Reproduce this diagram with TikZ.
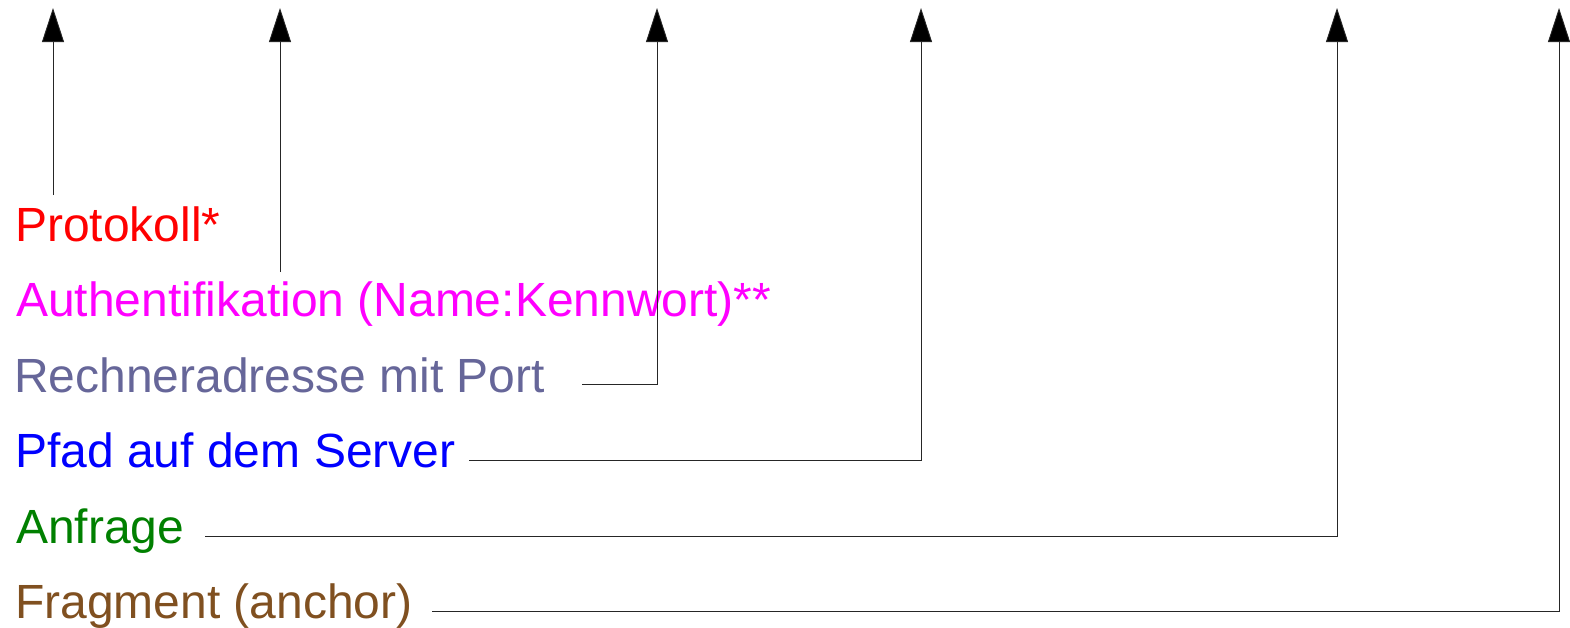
\documentclass[tikz,border=0pt]{standalone}
\usepackage{fontspec}
\setmainfont{Liberation Sans}
\usetikzlibrary{arrows.meta}
\definecolor{cProt}{RGB}{255,0,0}
\definecolor{cAuth}{RGB}{255,0,255}
\definecolor{cRech}{RGB}{102,102,153}
\definecolor{cPfad}{RGB}{0,0,255}
\definecolor{cAnfr}{RGB}{0,128,0}
\definecolor{cFrag}{RGB}{128,80,32}
\begin{document}
\begin{tikzpicture}[x=1pt,y=-1pt,
  lbl/.style={anchor=base west, inner sep=0pt, font=\fontsize{48}{58}\selectfont},
  conn/.style={line width=0.9pt, draw=black!85, -{Triangle[length=34pt,width=22pt,fill=black]}}]
\useasboundingbox (0,0) rectangle (1570,627);
\node[lbl, text=cProt] (prot) at (15,241) {Protokoll*};
\node[lbl, text=cAuth] (auth) at (16,316) {Authentifikation (Name:Kennwort)**};
\node[lbl, text=cRech] (rech) at (14,392) {Rechneradresse mit Port};
\node[lbl, text=cPfad] (pfad) at (15,467) {Pfad auf dem Server};
\node[lbl, text=cAnfr] (anfr) at (16,543) {Anfrage};
\node[lbl, text=cFrag] (frag) at (15,618) {Fragment (anchor)};
\coordinate (s1) at (53,195);
\coordinate (s2) at (280,272);
\coordinate (s3) at (582,384);
\coordinate (s4) at (469,460);
\coordinate (s5) at (205,536);
\coordinate (s6) at (432,611);
\coordinate (t1) at (53,8);
\coordinate (t2) at (280,8);
\coordinate (t3) at (657,8);
\coordinate (t4) at (921,8);
\coordinate (t5) at (1337,8);
\coordinate (t6) at (1559,8);
\draw[conn] (s1) -- (t1);
\draw[conn] (s2) -- (t2);
\draw[conn] (s3) -| (t3);
\draw[conn] (s4) -| (t4);
\draw[conn] (s5) -| (t5);
\draw[conn] (s6) -| (t6);
\end{tikzpicture}
\end{document}
